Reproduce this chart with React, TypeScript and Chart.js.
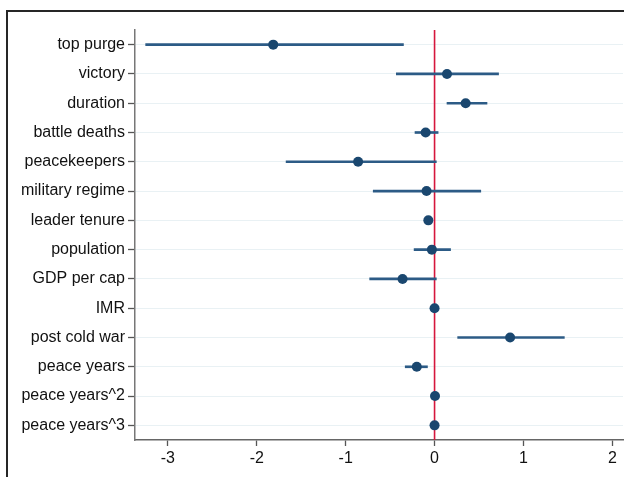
import React, { useEffect, useRef } from "react";
import { Chart, registerables } from "chart.js";

Chart.register(...registerables);

const categories = [
  "top purge",
  "victory",
  "duration",
  "battle deaths",
  "peacekeepers",
  "military regime",
  "leader tenure",
  "population",
  "GDP per cap",
  "IMR",
  "post cold war",
  "peace years",
  "peace years^2",
  "peace years^3",
];
const estimates = [-1.815, 0.14, 0.35, -0.1, -0.86, -0.09, -0.07, -0.03, -0.36, 0, 0.85, -0.2, 0.005, 0];
const lower = [-3.25, -0.43, 0.14, -0.22, -1.67, -0.69, -0.07, -0.23, -0.73, 0, 0.26, -0.33, 0.005, 0];
const upper = [-0.35, 0.72, 0.59, 0.04, 0.02, 0.52, -0.07, 0.18, 0.02, 0, 1.46, -0.08, 0.005, 0];
const xTickValues = [-3, -2, -1, 0, 1, 2];
const xMin = -3.37;
const xMax = 2.12;
const refValue = 0;

const FONT = "'Liberation Sans', Arial, Helvetica, sans-serif";

const refLine = {
  id: "refLine",
  beforeDatasetsDraw(chart: any) {
    const { ctx, chartArea, scales } = chart;
    const x = scales.x.getPixelForValue(refValue);
    ctx.save();
    ctx.strokeStyle = "#d6173d";
    ctx.lineWidth = 1.6;
    ctx.beginPath();
    ctx.moveTo(x, chartArea.top);
    ctx.lineTo(x, chartArea.bottom);
    ctx.stroke();
    ctx.restore();
  },
};

export default function App() {
  const ref = useRef<HTMLCanvasElement>(null);
  useEffect(() => {
    if (!ref.current) return;
    const chart = new Chart(ref.current, {
      type: "bar",
      data: {
        labels: categories,
        datasets: [
          {
            type: "bar",
            data: categories.map((_, i) => [lower[i], upper[i]]),
            backgroundColor: "#2c5b86",
            borderWidth: 0,
            barThickness: 2,
            order: 2,
          } as any,
          {
            type: "scatter",
            data: categories.map((c, i) => ({ x: estimates[i], y: c })),
            backgroundColor: "#1a476f",
            borderColor: "#1a476f",
            pointRadius: 5,
            pointBorderWidth: 0,
            showLine: false,
            indexAxis: "y",
            order: 1,
          } as any,
        ],
      },
      options: {
        indexAxis: "y",
        animation: false,
        responsive: false,
        layout: { padding: { top: 30, right: 0, left: 0, bottom: 0 } },
        plugins: { legend: { display: false }, tooltip: { enabled: false } },
        scales: {
          x: {
            type: "linear",
            min: xMin,
            max: xMax,
            afterBuildTicks: (s: any) => {
              s.ticks = xTickValues.map((v) => ({ value: v }));
            },
            afterFit: (s: any) => {
              s.height = 37;
            },
            grid: { drawOnChartArea: false, drawTicks: true, tickLength: 6, tickColor: "#555", tickWidth: 1.3 },
            border: { display: true, color: "#666", width: 1.5 },
            ticks: { font: { family: FONT, size: 16 }, color: "#111", padding: 3, maxRotation: 0 },
          },
          y: {
            type: "category",
            offset: true,
            afterFit: (s: any) => {
              s.width = 135;
            },
            grid: { offset: false, color: "#e9f1f4", lineWidth: 1, drawTicks: true, tickLength: 7, tickColor: "#555", tickWidth: 1.3 },
            border: { display: true, color: "#777", width: 1.5 },
            ticks: { font: { family: FONT, size: 16 }, color: "#111", padding: 3 },
          },
        },
      } as any,
      plugins: [refLine],
    });
    return () => chart.destroy();
  }, []);
  return (
    <div style={{ position: "fixed", left: 0, top: 0, width: 624, height: 477, overflow: "hidden", background: "#fff" }}>
      <div
        style={{
          position: "absolute",
          left: 6,
          top: 10,
          width: 700,
          height: 600,
          border: "2px solid #262626",
          boxSizing: "border-box",
        }}
      />
      <canvas ref={ref} width={628} height={477} style={{ position: "absolute", left: 0, top: 0 }} />
    </div>
  );
}
